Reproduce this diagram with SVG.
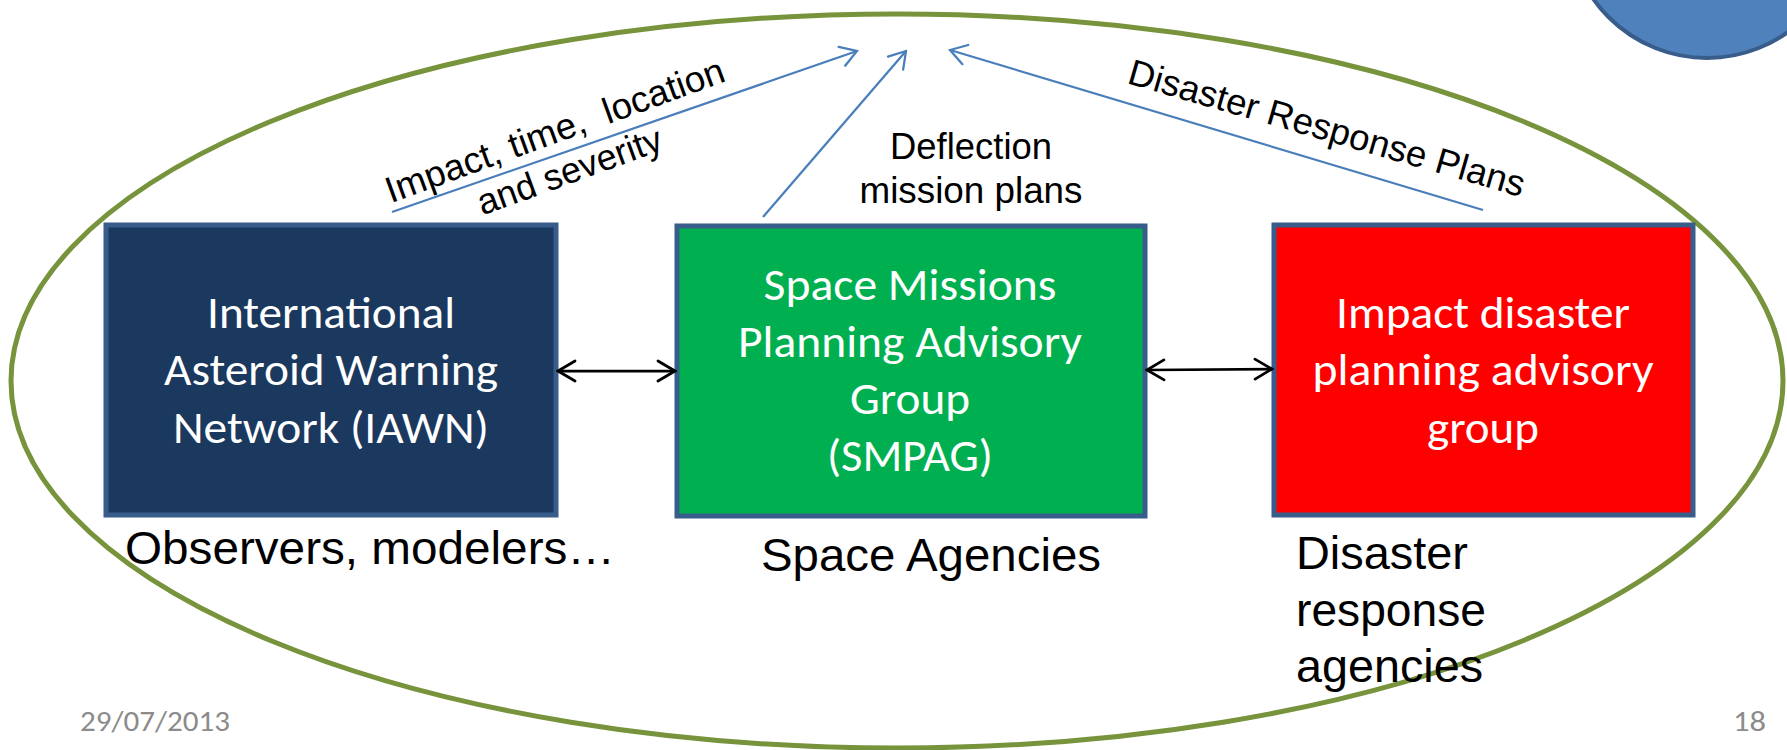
<svg xmlns="http://www.w3.org/2000/svg" width="1787" height="750" viewBox="0 0 1787 750">
  <style>
    .box { stroke: #385D8A; stroke-width: 5; }
    .bt { font-family: Carlito, Calibri, Lato, "Open Sans", sans-serif; font-size: 46px; fill: #FFFFFF; text-anchor: middle; }
    .lbl { font-family: "Liberation Sans", Arial, sans-serif; fill: #000000; }
    .big { font-size: 46px; }
    .small { font-size: 36.5px; }
    .foot { font-family: Carlito, Calibri, Lato, sans-serif; font-size: 29px; fill: #8B8B8B; }
    .flow { stroke: #4A7EBB; stroke-width: 2.25; fill: none; marker-end: url(#ab); }
    .link { stroke: #000000; stroke-width: 2.75; fill: none; marker-start: url(#ak); marker-end: url(#ak); }
  </style>
  <defs>
    <marker id="ab" viewBox="-20 -12 22 24" refX="0" refY="0" markerWidth="22" markerHeight="24" markerUnits="userSpaceOnUse" orient="auto-start-reverse">
      <path d="M-16,-10 L0,0 L-16,10" fill="none" stroke="#4A7EBB" stroke-width="2.25" stroke-linecap="round" stroke-linejoin="miter"/>
    </marker>
    <marker id="ak" viewBox="-20 -12 22 24" refX="0" refY="0" markerWidth="22" markerHeight="24" markerUnits="userSpaceOnUse" orient="auto-start-reverse">
      <path d="M-17,-10 L0,0 L-17,10" fill="none" stroke="#000000" stroke-width="2.75" stroke-linecap="round"/>
    </marker>
  </defs>
  <rect x="0" y="0" width="1787" height="750" fill="#FFFFFF"/>

  <g id="boundary">
    <ellipse cx="897" cy="381" rx="886" ry="367" fill="none" stroke="#77933C" stroke-width="5"/>
  </g>
  <g id="corner-circle">
    <circle cx="1707" cy="-81" r="139" fill="#4F81BD" stroke="#385D8A" stroke-width="4"/>
  </g>

  <g id="node-iawn">
    <rect class="box" x="106" y="225" width="450" height="290" fill="#1B385E"/>
    <text class="bt" x="331" y="328" textLength="248" lengthAdjust="spacingAndGlyphs">International</text>
    <text class="bt" x="331" y="385" textLength="334" lengthAdjust="spacingAndGlyphs">Asteroid Warning</text>
    <text class="bt" x="331" y="443" textLength="316" lengthAdjust="spacingAndGlyphs">Network (IAWN)</text>
  </g>

  <g id="node-smpag">
    <rect class="box" x="677" y="226" width="468" height="290" fill="#00B050"/>
    <text class="bt" x="910" y="300" textLength="293" lengthAdjust="spacingAndGlyphs">Space Missions</text>
    <text class="bt" x="910" y="357" textLength="344" lengthAdjust="spacingAndGlyphs">Planning Advisory</text>
    <text class="bt" x="910" y="414" textLength="120" lengthAdjust="spacingAndGlyphs">Group</text>
    <text class="bt" x="910" y="471" textLength="166" lengthAdjust="spacingAndGlyphs">(SMPAG)</text>
  </g>

  <g id="node-impact">
    <rect class="box" x="1274" y="225" width="419" height="290" fill="#FF0000"/>
    <text class="bt" x="1483" y="328" textLength="294" lengthAdjust="spacingAndGlyphs">Impact disaster</text>
    <text class="bt" x="1483" y="385" textLength="341" lengthAdjust="spacingAndGlyphs">planning advisory</text>
    <text class="bt" x="1483" y="443" textLength="112" lengthAdjust="spacingAndGlyphs">group</text>
  </g>

  <g id="connectors">
    <line class="link" x1="558" y1="371" x2="675" y2="371"/>
    <line class="link" x1="1147" y1="370" x2="1272" y2="369"/>
    <line class="flow" x1="392" y1="212" x2="857" y2="51"/>
    <line class="flow" x1="763" y1="217" x2="906" y2="51"/>
    <line class="flow" x1="1483" y1="210" x2="950" y2="50"/>
  </g>

  <g id="connector-labels">
    <g transform="translate(559,142) rotate(-20)">
      <text class="lbl small" x="0" y="0" text-anchor="middle" style="white-space:pre" textLength="358" lengthAdjust="spacingAndGlyphs">Impact, time,  location</text>
      <text class="lbl small" x="0" y="43" text-anchor="middle" textLength="194" lengthAdjust="spacingAndGlyphs">and severity</text>
    </g>
    <text class="lbl small" x="971" y="159" text-anchor="middle" textLength="162" lengthAdjust="spacingAndGlyphs">Deflection</text>
    <text class="lbl small" x="971" y="203" text-anchor="middle" textLength="223" lengthAdjust="spacingAndGlyphs">mission plans</text>
    <g transform="translate(1126,83) rotate(16.1)">
      <text class="lbl small" x="0" y="0" textLength="411" lengthAdjust="spacingAndGlyphs">Disaster Response Plans</text>
    </g>
  </g>

  <g id="group-labels">
    <text class="lbl big" x="125" y="564" textLength="490" lengthAdjust="spacingAndGlyphs">Observers, modelers…</text>
    <text class="lbl big" x="761" y="571" textLength="340" lengthAdjust="spacingAndGlyphs">Space Agencies</text>
    <text class="lbl big" x="1296" y="569" textLength="172" lengthAdjust="spacingAndGlyphs">Disaster</text>
    <text class="lbl big" x="1296" y="626" textLength="190" lengthAdjust="spacingAndGlyphs">response</text>
    <text class="lbl big" x="1296" y="682" textLength="187" lengthAdjust="spacingAndGlyphs">agencies</text>
  </g>

  <g id="footer">
    <text class="foot" x="80" y="731" textLength="150" lengthAdjust="spacingAndGlyphs">29/07/2013</text>
    <text class="foot" x="1733" y="731" textLength="33" lengthAdjust="spacingAndGlyphs">18</text>
  </g>
</svg>
